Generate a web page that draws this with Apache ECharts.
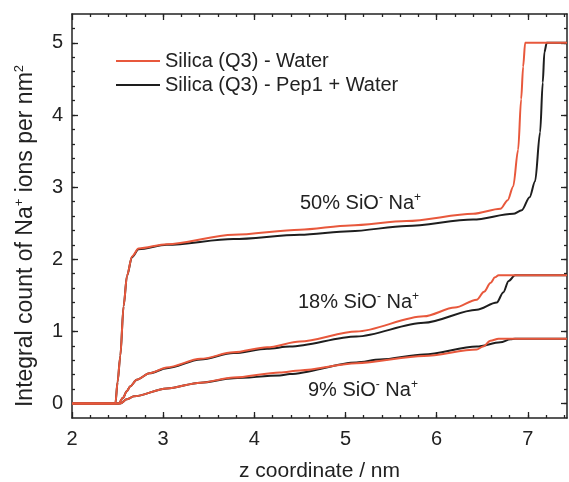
<!DOCTYPE html>
<html>
<head>
<meta charset="utf-8">
<script src="https://cdn.jsdelivr.net/npm/echarts@6/dist/echarts.min.js"></script>
<style>
  html, body { margin: 0; padding: 0; background: #fff; }
  #main { width: 569px; height: 482px; }
</style>
</head>
<body>
<div id="main"></div>
<script>
// integral count of Na+ vs z, [z (nm), count per nm^2]
var water50 = [[2.0,0],[2.476,0],[2.50,0.30],[2.53,0.66],[2.566,1.35],[2.603,1.77],[2.658,2.04],[2.73,2.15],[3.04,2.21],[3.77,2.34],[4.50,2.41],[5.05,2.47],[5.67,2.53],[6.40,2.63],[6.70,2.70],[6.78,2.82],[6.84,3.01],[6.894,3.52],[6.927,4.22],[6.949,4.67],[6.971,5.0],[7.43,5.0]];
var pep50 = [[2.0,0],[2.476,0],[2.50,0.30],[2.53,0.66],[2.566,1.35],[2.603,1.77],[2.658,2.03],[2.73,2.14],[3.04,2.20],[3.77,2.28],[4.50,2.34],[5.05,2.39],[5.67,2.46],[6.40,2.55],[6.84,2.63],[6.934,2.68],[7.02,2.86],[7.08,3.08],[7.135,3.76],[7.164,4.45],[7.182,4.87],[7.208,5.0],[7.43,5.0]];
var water18 = [[2.0,0],[2.51,0],[2.56,0.08],[2.60,0.17],[2.64,0.24],[2.71,0.33],[2.85,0.42],[3.04,0.50],[3.41,0.62],[3.77,0.71],[4.14,0.78],[4.50,0.86],[5.12,1.00],[5.86,1.21],[6.20,1.33],[6.44,1.44],[6.52,1.55],[6.59,1.67],[6.64,1.75],[6.68,1.78],[7.43,1.78]];
var pep18 = [[2.0,0],[2.51,0],[2.56,0.08],[2.60,0.17],[2.64,0.24],[2.71,0.33],[2.85,0.42],[3.04,0.49],[3.41,0.61],[3.77,0.70],[4.14,0.76],[4.39,0.79],[5.12,0.93],[5.86,1.12],[6.44,1.30],[6.66,1.40],[6.73,1.54],[6.79,1.70],[6.86,1.78],[7.43,1.78]];
var water9 = [[2.0,0],[2.53,0],[2.60,0.06],[2.68,0.10],[3.04,0.21],[3.41,0.29],[3.77,0.36],[4.28,0.43],[4.50,0.46],[5.12,0.56],[5.86,0.66],[6.44,0.75],[6.51,0.79],[6.59,0.87],[6.68,0.90],[7.43,0.90]];
var pep9 = [[2.0,0],[2.53,0],[2.60,0.06],[2.68,0.10],[3.04,0.21],[3.41,0.29],[3.77,0.35],[4.28,0.39],[4.39,0.41],[5.12,0.57],[5.38,0.61],[5.86,0.68],[6.44,0.79],[6.70,0.85],[6.81,0.89],[6.86,0.90],[7.43,0.90]];

var xMajor = [2, 3, 4, 5, 6, 7];
var yMajor = [0, 1, 2, 3, 4, 5];
var xMinor = [];
for (var i = 1; i * 0.2 + 2 < 7.43; i++) xMinor.push(+(2 + i * 0.2).toFixed(1));
var yMinor = [];
for (var j = 1; j * 0.2 - 0.2 < 5.4; j++) yMinor.push(+(-0.2 + j * 0.2).toFixed(1));

var nameWater = 'Silica (Q3) - Water';
var namePep = 'Silica (Q3) - Pep1 + Water';
var red = '#e8583c';
var black = '#1e1e1e';
var font = 'Liberation Sans, Arial, Helvetica, sans-serif';
var ink = '#222';

var sup = { fontSize: 12, verticalAlign: 'top', lineHeight: 12, fontFamily: font, color: ink };

function frameAxis(pos, kind, major) {
  var isX = pos === 'bottom' || pos === 'top';
  return {
    type: 'value',
    position: pos,
    min: isX ? 2 : -0.2,
    max: isX ? 7.43 : 5.4,
    axisLine: { show: major, onZero: false, lineStyle: { color: ink, width: 1.5 } },
    axisTick: { show: true, inside: true, length: major ? 6 : 3, customValues: kind, lineStyle: { color: ink, width: 1.3 } },
    axisLabel: { show: false },
    splitLine: { show: false }
  };
}

var xMain = frameAxis('bottom', xMajor, true);
xMain.axisLabel = { show: true, customValues: xMajor, fontSize: 20, color: ink, fontFamily: font, margin: 11 };
xMain.name = 'z coordinate / nm';
xMain.nameLocation = 'middle';
xMain.nameGap = 43;
xMain.nameTextStyle = { fontSize: 21, color: ink, fontFamily: font };

var yMain = frameAxis('left', yMajor, true);
yMain.axisLabel = { show: true, customValues: yMajor, fontSize: 20, color: ink, fontFamily: font, margin: 9 };
yMain.name = 'Integral count of Na{sup|+} ions per nm{sup|2}';
yMain.nameLocation = 'middle';
yMain.nameGap = 33;
yMain.nameTextStyle = { fontSize: 23, color: ink, fontFamily: font, lineHeight: 26, padding: [0, 40, 0, 0], rich: { sup: { fontSize: 13, verticalAlign: 'top', lineHeight: 13, fontFamily: font, color: ink } } };

function line(name, data, color) {
  return {
    name: name, type: 'line', data: data, symbol: 'none',
    smooth: 0.3, smoothMonotone: 'x',
    lineStyle: { color: color, width: 2 }, itemStyle: { color: color },
    z: color === red ? 3 : 2
  };
}

var myChart = echarts.init(document.getElementById('main'));
var option = {
  animation: false,
  backgroundColor: '#fff',
  grid: { left: 72, right: 2, top: 14, bottom: 64, containLabel: false, outerBoundsMode: 'none' },
  legend: {
    data: [nameWater, namePep],
    orient: 'vertical', left: 115, top: 51, padding: 0,
    itemWidth: 44, itemHeight: 12, itemGap: 4,
    itemStyle: { opacity: 0 },
    textStyle: { fontSize: 20, color: ink, fontFamily: font }
  },
  xAxis: [xMain, frameAxis('bottom', xMinor, false), frameAxis('top', xMajor, true), frameAxis('top', xMinor, false)],
  yAxis: [yMain, frameAxis('left', yMinor, false), frameAxis('right', yMajor, true), frameAxis('right', yMinor, false)],
  series: [
    line(namePep, pep50, black),
    line(namePep, pep18, black),
    line(namePep, pep9, black),
    line(nameWater, water50, red),
    line(nameWater, water18, red),
    line(nameWater, water9, red)
  ],
  graphic: [
    { type: 'text', x: 300, y: 203, style: { text: '50% SiO{sup|-} Na{sup|+}', fontSize: 20, fontFamily: font, fill: ink, verticalAlign: 'middle', lineHeight: 22, rich: { sup: sup } } },
    { type: 'text', x: 298, y: 302, style: { text: '18% SiO{sup|-} Na{sup|+}', fontSize: 20, fontFamily: font, fill: ink, verticalAlign: 'middle', lineHeight: 22, rich: { sup: sup } } },
    { type: 'text', x: 308, y: 390, style: { text: '9% SiO{sup|-} Na{sup|+}', fontSize: 20, fontFamily: font, fill: ink, verticalAlign: 'middle', lineHeight: 22, rich: { sup: sup } } }
  ]
};
myChart.setOption(option);
</script>
</body>
</html>
